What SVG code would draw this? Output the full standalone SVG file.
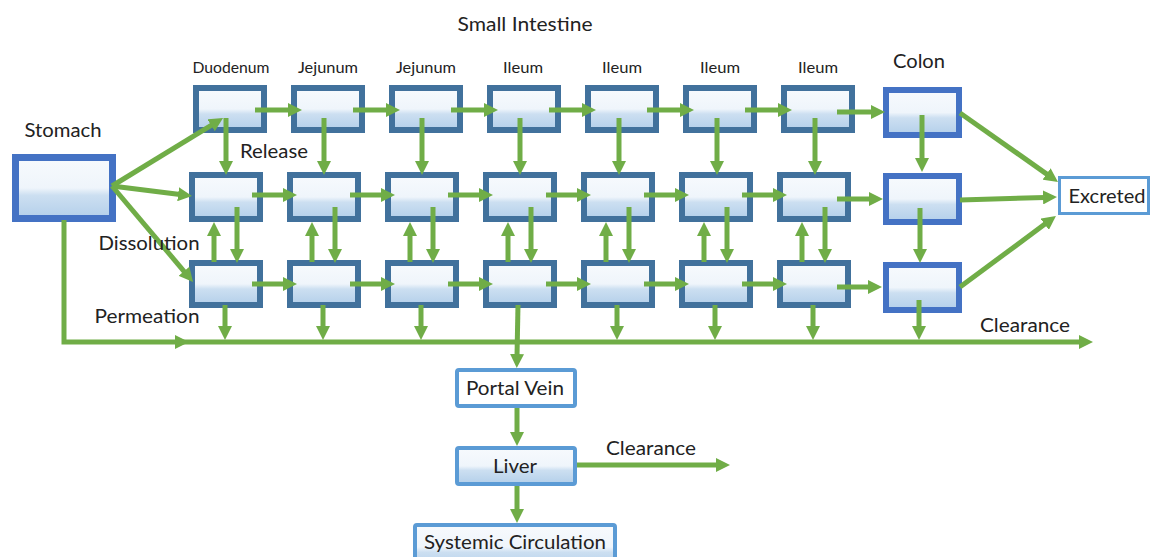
<svg xmlns="http://www.w3.org/2000/svg" width="1151" height="557" viewBox="0 0 1151 557">
  <defs>
    <linearGradient id="fillGrad" x1="0" y1="0" x2="0" y2="1">
      <stop offset="0" stop-color="#F7FAFD"/>
      <stop offset="0.5" stop-color="#EFF5FB"/>
      <stop offset="0.62" stop-color="#CCDFF1"/>
      <stop offset="1" stop-color="#B3CFEA"/>
    </linearGradient>
    <marker id="ah" viewBox="0 0 14 14" refX="2" refY="7" markerWidth="14" markerHeight="14" markerUnits="userSpaceOnUse" orient="auto">
      <path d="M0,0 L14,7 L0,14 z" fill="#70AD47"/>
    </marker>
    <style>
      .seg { fill: url(#fillGrad); stroke: #41719C; stroke-width: 6; }
      .colon { fill: url(#fillGrad); stroke: #4472C4; stroke-width: 6; }
      .stomach { fill: url(#fillGrad); stroke: #4472C4; stroke-width: 7; }
      .plain { fill: #FFFFFF; stroke: #5B9BD5; stroke-width: 4; }
      .plaing { fill: url(#fillGrad); stroke: #5B9BD5; stroke-width: 4; }
      .c { fill: none; stroke: #70AD47; stroke-width: 5; marker-end: url(#ah); }
      .t { font-family: Lato, "Liberation Sans", sans-serif; fill: #222222; text-anchor: middle; }
      .big { font-size: 19.5px; }
      .small { font-size: 15px; }
    </style>
  </defs>
  <rect width="1151" height="557" fill="#FFFFFF"/>

  <!-- nodes -->
  <g id="stomach"><rect class="stomach" x="15.5" y="157.5" width="97" height="61"/></g>

  <g id="duodenum-r1"><rect class="seg" x="196" y="88" width="68" height="42"/></g>
  <g id="jejunum1-r1"><rect class="seg" x="294" y="88" width="68" height="42"/></g>
  <g id="jejunum2-r1"><rect class="seg" x="392" y="88" width="68" height="42"/></g>
  <g id="ileum1-r1"><rect class="seg" x="490" y="88" width="68" height="42"/></g>
  <g id="ileum2-r1"><rect class="seg" x="588" y="88" width="68" height="42"/></g>
  <g id="ileum3-r1"><rect class="seg" x="686" y="88" width="68" height="42"/></g>
  <g id="ileum4-r1"><rect class="seg" x="784" y="88" width="68" height="42"/></g>

  <g id="duodenum-r2"><rect class="seg" x="192" y="175" width="68" height="44"/></g>
  <g id="jejunum1-r2"><rect class="seg" x="290" y="175" width="68" height="44"/></g>
  <g id="jejunum2-r2"><rect class="seg" x="388" y="175" width="68" height="44"/></g>
  <g id="ileum1-r2"><rect class="seg" x="486" y="175" width="68" height="44"/></g>
  <g id="ileum2-r2"><rect class="seg" x="584" y="175" width="68" height="44"/></g>
  <g id="ileum3-r2"><rect class="seg" x="682" y="175" width="68" height="44"/></g>
  <g id="ileum4-r2"><rect class="seg" x="780" y="175" width="68" height="44"/></g>

  <g id="duodenum-r3"><rect class="seg" x="192" y="263" width="68" height="42"/></g>
  <g id="jejunum1-r3"><rect class="seg" x="290" y="263" width="68" height="42"/></g>
  <g id="jejunum2-r3"><rect class="seg" x="388" y="263" width="68" height="42"/></g>
  <g id="ileum1-r3"><rect class="seg" x="486" y="263" width="68" height="42"/></g>
  <g id="ileum2-r3"><rect class="seg" x="584" y="263" width="68" height="42"/></g>
  <g id="ileum3-r3"><rect class="seg" x="682" y="263" width="68" height="42"/></g>
  <g id="ileum4-r3"><rect class="seg" x="780" y="263" width="68" height="42"/></g>

  <g id="colon-r1"><rect class="colon" x="886" y="90" width="73" height="45"/></g>
  <g id="colon-r2"><rect class="colon" x="886" y="176" width="73" height="46"/></g>
  <g id="colon-r3"><rect class="colon" x="886" y="265" width="73" height="45"/></g>

  <g id="excreted">
    <rect x="1059.5" y="177.5" width="89" height="36" fill="#FFFFFF" stroke="#5B9BD5" stroke-width="3"/>
    <text class="t big" x="1107" y="203" textLength="77" lengthAdjust="spacingAndGlyphs">Excreted</text>
  </g>
  <g id="portal-vein">
    <rect class="plain" x="457" y="370" width="118" height="36" rx="2"/>
    <text class="t big" x="515" y="395" textLength="98" lengthAdjust="spacingAndGlyphs">Portal Vein</text>
  </g>
  <g id="liver">
    <rect class="plaing" x="457" y="448" width="118" height="36" rx="2"/>
    <text class="t big" x="515" y="473" textLength="44" lengthAdjust="spacingAndGlyphs">Liver</text>
  </g>
  <g id="systemic-circulation">
    <rect class="plaing" x="415" y="525" width="200" height="44" rx="2"/>
    <text class="t big" x="515" y="549" textLength="182" lengthAdjust="spacingAndGlyphs">Systemic Circulation</text>
  </g>

  <!-- connectors -->
  <g id="connectors">
    <!-- stomach to segments -->
    <path class="c" d="M112,186 L212.8,124.3"/>
    <path class="c" d="M112,186 L180.1,194.5"/>
    <path class="c" d="M112,186 L185.3,272.8"/>
    <!-- stomach to clearance -->
    <path class="c" d="M64,220 L64,342 L1081,342"/>
    <polygon points="175,335 189,342 175,349" fill="#70AD47"/>
    <!-- row 1 horizontal -->
    <path class="c" d="M255,110 L290,110"/>
    <path class="c" d="M353,110 L388,110"/>
    <path class="c" d="M451,110 L486,110"/>
    <path class="c" d="M549,110 L584,110"/>
    <path class="c" d="M647,110 L682,110"/>
    <path class="c" d="M745,110 L780,110"/>
    <path class="c" d="M837,112 L873,112"/>
    <!-- row 2 horizontal -->
    <path class="c" d="M252,195 L285,195"/>
    <path class="c" d="M350,195 L383,195"/>
    <path class="c" d="M448,195 L481,195"/>
    <path class="c" d="M546,195 L579,195"/>
    <path class="c" d="M644,195 L677,195"/>
    <path class="c" d="M742,195 L775,195"/>
    <path class="c" d="M837,199 L871,199"/>
    <!-- row 3 horizontal -->
    <path class="c" d="M252,284 L285,284"/>
    <path class="c" d="M350,284 L383,284"/>
    <path class="c" d="M448,284 L481,284"/>
    <path class="c" d="M546,284 L579,284"/>
    <path class="c" d="M644,284 L677,284"/>
    <path class="c" d="M742,284 L775,284"/>
    <path class="c" d="M837,287 L870,287"/>
    <!-- release: row1 to row2 -->
    <path class="c" d="M226,118 L226,163"/>
    <path class="c" d="M324,118 L324,163"/>
    <path class="c" d="M422,118 L422,163"/>
    <path class="c" d="M520,118 L520,163"/>
    <path class="c" d="M619,118 L619,163"/>
    <path class="c" d="M717,118 L717,163"/>
    <path class="c" d="M815,118 L815,163"/>
    <!-- dissolution: up row3 to row2 -->
    <path class="c" d="M214,262 L214,234"/>
    <path class="c" d="M312,262 L312,234"/>
    <path class="c" d="M410,262 L410,234"/>
    <path class="c" d="M508,262 L508,234"/>
    <path class="c" d="M606,262 L606,234"/>
    <path class="c" d="M704,262 L704,234"/>
    <path class="c" d="M802,262 L802,234"/>
    <!-- down row2 to row3 -->
    <path class="c" d="M237,207 L237,251"/>
    <path class="c" d="M335,207 L335,251"/>
    <path class="c" d="M433,207 L433,251"/>
    <path class="c" d="M531,207 L531,251"/>
    <path class="c" d="M629,207 L629,251"/>
    <path class="c" d="M727,207 L727,251"/>
    <path class="c" d="M825,207 L825,251"/>
    <!-- permeation -->
    <path class="c" d="M225,305 L225,328"/>
    <path class="c" d="M323,305 L323,328"/>
    <path class="c" d="M421,305 L421,328"/>
    <path class="c" d="M518,305 L517,356"/>
    <path class="c" d="M617,305 L617,328"/>
    <path class="c" d="M715,305 L715,328"/>
    <path class="c" d="M813,305 L813,328"/>
    <!-- colon -->
    <path class="c" d="M922,115 L922,160"/>
    <path class="c" d="M920,208 L920,251"/>
    <path class="c" d="M919,300 L919,328"/>
    <path class="c" d="M960,113 L1048.2,175.1"/>
    <path class="c" d="M960,200 L1045,197.4"/>
    <path class="c" d="M960,287 L1046.3,223.1"/>
    <!-- portal, liver -->
    <path class="c" d="M517,408 L517,434"/>
    <path class="c" d="M517,486 L517,511"/>
    <path class="c" d="M577,465 L718,465"/>
  </g>

  <!-- labels -->
  <g id="labels">
    <text class="t big" x="525" y="31" textLength="135" lengthAdjust="spacingAndGlyphs">Small Intestine</text>
    <text class="t small" x="231" y="73" textLength="77" lengthAdjust="spacingAndGlyphs">Duodenum</text>
    <text class="t small" x="328" y="73" textLength="60" lengthAdjust="spacingAndGlyphs">Jejunum</text>
    <text class="t small" x="426" y="73" textLength="60" lengthAdjust="spacingAndGlyphs">Jejunum</text>
    <text class="t small" x="523" y="73" textLength="40" lengthAdjust="spacingAndGlyphs">Ileum</text>
    <text class="t small" x="622" y="73" textLength="40" lengthAdjust="spacingAndGlyphs">Ileum</text>
    <text class="t small" x="720" y="73" textLength="40" lengthAdjust="spacingAndGlyphs">Ileum</text>
    <text class="t small" x="818" y="73" textLength="40" lengthAdjust="spacingAndGlyphs">Ileum</text>
    <text class="t big" x="919" y="68" textLength="52" lengthAdjust="spacingAndGlyphs">Colon</text>
    <text class="t big" x="63" y="137" textLength="77" lengthAdjust="spacingAndGlyphs">Stomach</text>
    <text class="t big" x="274" y="158" textLength="68" lengthAdjust="spacingAndGlyphs">Release</text>
    <text class="t big" x="149" y="250" textLength="101" lengthAdjust="spacingAndGlyphs">Dissolution</text>
    <text class="t big" x="147" y="323" textLength="105" lengthAdjust="spacingAndGlyphs">Permeation</text>
    <text class="t big" x="1025" y="332" textLength="90" lengthAdjust="spacingAndGlyphs">Clearance</text>
    <text class="t big" x="651" y="455" textLength="90" lengthAdjust="spacingAndGlyphs">Clearance</text>
  </g>
</svg>
